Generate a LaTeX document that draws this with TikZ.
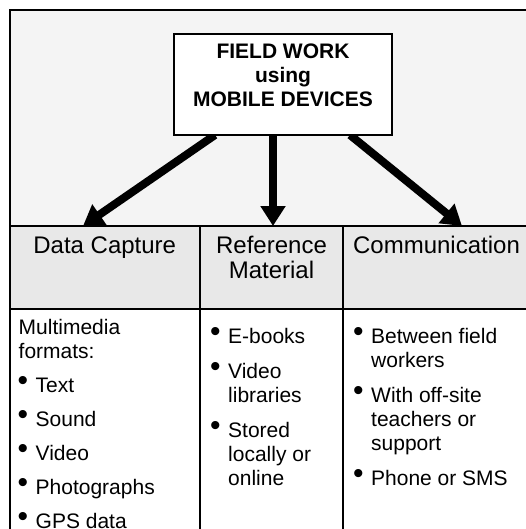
\documentclass[tikz,border=0pt]{standalone}
\usepackage{fontspec}
\setmainfont{Liberation Sans}
\usetikzlibrary{arrows.meta}

\pgfdeclarelayer{bg}
\pgfsetlayers{bg,main}

\newcommand{\bt}{\hspace*{-1pt}\raisebox{1.5pt}{\fontsize{30}{30}\selectfont\textbullet}}

\begin{document}
\begin{tikzpicture}[x=1pt,y=-1pt,
	fat/.style={line width=8pt,-{Triangle[length=20pt,width=24pt]}},
	cell/.style={draw,line width=2pt,inner sep=0pt,outer sep=0pt,anchor=north west},
	head/.style={font=\fontsize{24}{25}\selectfont,inner sep=0pt,anchor=base},
	body/.style={font=\fontsize{21}{24}\selectfont,inner sep=0pt,anchor=base west}]

\definecolor{backgray}{RGB}{244,244,244}
\definecolor{headgray}{RGB}{232,232,232}

\clip (0,0) rectangle (526,529);

% table of three columns
\foreach \n/\x/\w in {cap/9.5/190.5,ref/200/143,com/343/187}{
	\node[cell,fill=headgray,minimum width=\w pt,minimum height=83pt] (\n-cell) at (\x,226) {};
	\node[cell,fill=white,minimum width=\w pt,minimum height=240pt] (\n-body) at (\x,309) {};
}

\node[cell,fill=white,minimum width=218pt,minimum height=101pt] (title) at (174,34) {};
\node[anchor=base,inner sep=0pt,font=\fontsize{21}{24}\selectfont\bfseries] (titletxt)
	at ([yshift=-25pt]title.north)
	{\begin{tabular}[t]{@{}c@{}}FIELD WORK\\using\\MOBILE DEVICES\end{tabular}};

\begin{pgfonlayer}{bg}
\fill[backgray] (9.5,10) rectangle (540,226);
\draw[fat] ([xshift=-68pt]title.south) -- ([xshift=-21.75pt]cap-cell.north);
\draw[fat] ([xshift=-10pt]title.south) -- ([xshift=1.5pt]ref-cell.north);
\draw[fat] ([xshift=67pt]title.south) -- ([xshift=25.5pt]com-cell.north);
\end{pgfonlayer}

\draw[line width=2pt] (540,10) -- (9.5,10) -- (9.5,540);

% headings
\node[head] (captxt) at ([yshift=-27pt]cap-cell.north) {Data Capture};
\node[head] (reftxt) at ([yshift=-27pt]ref-cell.north)
	{\begin{tabular}[t]{@{}c@{}}Reference\\Material\end{tabular}};
\node[head] (comtxt) at ([yshift=-27pt]com-cell.north) {Communication};

% lists
\node[body] (capitems) at ([xshift=9pt,yshift=-25pt]cap-body.north west)
	{\begin{tabular}[t]{@{}p{17pt}@{}l@{}}
	\multicolumn{2}{@{}l@{}}{Multimedia}\\
	\multicolumn{2}{@{}l@{}}{formats:}\\[10pt]
	\bt & Text\\[10pt]
	\bt & Sound\\[10pt]
	\bt & Video\\[10pt]
	\bt & Photographs\\[10pt]
	\bt & GPS data
	\end{tabular}};
\node[body] (refitems) at ([xshift=11pt,yshift=-34pt]ref-body.north west)
	{\begin{tabular}[t]{@{}p{17pt}@{}l@{}}
	\bt & E-books\\[11pt]
	\bt & Video\\
	    & libraries\\[11pt]
	\bt & Stored\\
	    & locally or\\
	    & online
	\end{tabular}};
\node[body] (comitems) at ([xshift=11pt,yshift=-34pt]com-body.north west)
	{\begin{tabular}[t]{@{}p{17pt}@{}l@{}}
	\bt & Between field\\
	    & workers\\[11pt]
	\bt & With off-site\\
	    & teachers or\\
	    & support\\[11pt]
	\bt & Phone or SMS
	\end{tabular}};

\end{tikzpicture}
\end{document}
